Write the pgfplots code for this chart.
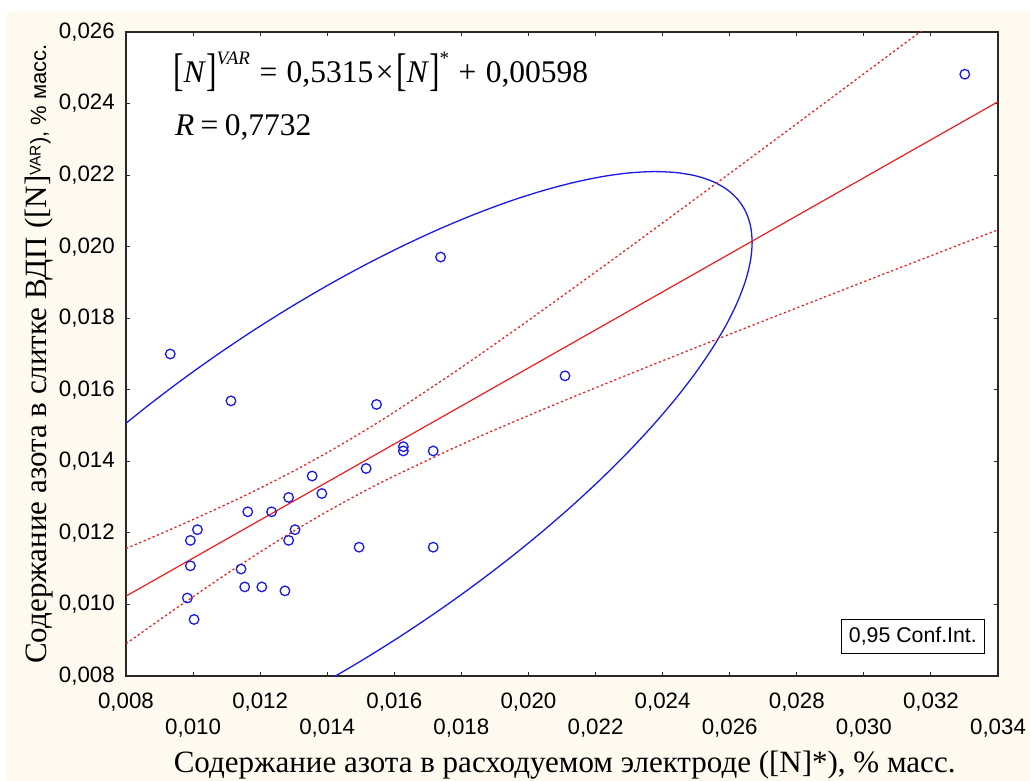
\documentclass[border=0pt]{standalone}
\usepackage{fontspec}
\setmainfont{Liberation Serif}
\newfontfamily\arial{Liberation Sans}
\usepackage{graphicx}
\usepackage{pgfplots}
\pgfplotsset{compat=1.18}

\definecolor{cream}{RGB}{254,250,240}
\definecolor{ptblue}{RGB}{25,25,235}
\definecolor{lnred}{RGB}{238,30,30}
\definecolor{axgray}{RGB}{40,40,40}
\newcommand{\lb}[1]{\raisebox{-0.08em}{\scalebox{1}[1.45]{#1}}}

\begin{document}
\begin{tikzpicture}
\fill[white] (-126bp,-105bp) rectangle (904bp,676bp);
\fill[cream] (-119bp,-105bp) rectangle (904bp,664bp);
\begin{axis}[
  scale only axis, width=872bp, height=644bp,
  xmin=0.008, xmax=0.034, ymin=0.008, ymax=0.026,
  axis background/.style={fill=white},
  axis line style={axgray, line width=1.5bp},
  tick align=inside,
  major tick length=4.5bp,
  tick style={axgray, line width=1bp},
  scaled ticks=false,
  xtick={0.008,0.012,0.016,0.020,0.024,0.028,0.032},
  extra x ticks={0.010,0.014,0.018,0.022,0.026,0.030,0.034},
  extra x tick style={xticklabel style={yshift=-26bp}},
  ytick={0.008,0.010,0.012,0.014,0.016,0.018,0.020,0.022,0.024,0.026},
  /pgf/number format/.cd, fixed, fixed zerofill, precision=3, use comma, assume math mode=true, 1000 sep={},
  /pgfplots/.cd,
  ticklabel style={font=\arial\fontsize{22.3bp}{24bp}\selectfont, inner sep=0pt},
  xticklabel style={anchor=north, yshift=-16.5bp},
  yticklabel style={anchor=east, xshift=-11bp},
  xlabel={Содержание азота в расходуемом электроде ([N]*), \% масс.},
  xlabel style={at={(axis description cs:0.503,-0.1491)}, anchor=base, inner sep=0pt, font=\fontsize{31bp}{33bp}\selectfont},
  ylabel={{\fontsize{31bp}{33bp}\selectfont Содержание азота в слитке ВДП ([N]}\raisebox{0.55em}{\arial\fontsize{15.5bp}{16bp}\selectfont VAR}{\arial\fontsize{22bp}{24bp}\selectfont ), \% масс.}},
  ylabel style={at={(axis description cs:-0.0917,0.5)}, anchor=base, rotate=0, inner sep=0pt},
]

% 95% confidence ellipse
\addplot[ptblue, line width=1.3bp, smooth] coordinates {
(0.011800,0.006783) (0.012896,0.007302) (0.014000,0.007868) (0.015104,0.008476)
(0.016200,0.009121) (0.017279,0.009799) (0.018333,0.010504) (0.019354,0.011231)
(0.020335,0.011975) (0.021267,0.012729) (0.022143,0.013489) (0.022958,0.014247)
(0.023705,0.015000) (0.024378,0.015739) (0.024972,0.016461) (0.025482,0.017159)
(0.025905,0.017829) (0.026237,0.018466) (0.026477,0.019063) (0.026621,0.019617)
(0.026669,0.020124) (0.026621,0.020579) (0.026477,0.020981) (0.026237,0.021324)
(0.025905,0.021607) (0.025482,0.021827) (0.024972,0.021983) (0.024378,0.022073)
(0.023705,0.022098) (0.022958,0.022057) (0.022143,0.021949) (0.021267,0.021775)
(0.020335,0.021539) (0.019354,0.021241) (0.018333,0.020882) (0.017279,0.020467)
(0.016200,0.019997) (0.015104,0.019478) (0.014000,0.018912) (0.012896,0.018304)
(0.011800,0.017659) (0.010721,0.016981) (0.009667,0.016276) (0.008646,0.015549)
(0.007665,0.014805) (0.006733,0.014051) (0.005857,0.013291)
};

% regression line
\addplot[lnred, line width=1.2bp] coordinates {(0.008,0.010232) (0.034,0.024051)};

% confidence bands
\addplot[lnred, line width=1.3bp, dash pattern=on 2.2bp off 2.6bp, smooth] coordinates {
(0.008,0.011562) (0.009,0.011962) (0.010,0.012373) (0.011,0.012801)
(0.012,0.013251) (0.013,0.013730) (0.014,0.014243) (0.015,0.014793)
(0.016,0.015377) (0.018,0.016625) (0.020,0.017940) (0.022,0.019291)
(0.024,0.020662) (0.026,0.022045) (0.028,0.023436) (0.030,0.024831)
(0.032,0.026230) (0.034,0.027631)
};
\addplot[lnred, line width=1.3bp, dash pattern=on 2.2bp off 2.6bp, smooth] coordinates {
(0.008,0.008902) (0.009,0.009566) (0.010,0.010217) (0.011,0.010853)
(0.012,0.011465) (0.013,0.012050) (0.014,0.012599) (0.015,0.013113)
(0.016,0.013591) (0.018,0.014469) (0.020,0.015280) (0.022,0.016055)
(0.024,0.016810) (0.026,0.017553) (0.028,0.018288) (0.030,0.019019)
(0.032,0.019746) (0.034,0.020471)
};

% data points
\addplot[only marks, mark=o, mark size=4.8bp, ptblue, mark options={line width=1.3bp}] coordinates {
(0.01113,0.01569) (0.01547,0.01559) (0.01627,0.01441) (0.01627,0.01429)
(0.01716,0.01429) (0.01516,0.01380) (0.01355,0.01359) (0.01384,0.01310)
(0.01285,0.01299) (0.01163,0.01259) (0.01234,0.01259) (0.01013,0.01209)
(0.00992,0.01179) (0.01304,0.01209) (0.01285,0.01179) (0.01495,0.01160)
(0.01716,0.01160) (0.00992,0.01108) (0.01143,0.01099) (0.01154,0.01049)
(0.01205,0.01049) (0.01274,0.01038) (0.00983,0.01018) (0.01003,0.00958)
(0.00932,0.01700) (0.01738,0.01971) (0.03301,0.02482) (0.02109,0.01639)
};

\node[anchor=base west, inner sep=0pt, font=\fontsize{31.5bp}{33bp}\selectfont] at (axis description cs:0.0539,0.9208)
  {\lb{[}\textit{N}\lb{]}\raisebox{0.6em}{\fontsize{19bp}{19bp}\selectfont\textit{VAR}}\kern0.3em=\kern0.3em0,5315\kern0.08em×\kern0.08em\lb{[}\textit{N}\lb{]}\raisebox{0.6em}{\fontsize{19bp}{19bp}\selectfont *}\kern0.3em+\kern0.3em0,00598};
\node[anchor=base west, inner sep=0pt, font=\fontsize{31.5bp}{33bp}\selectfont] at (axis description cs:0.0562,0.840)
  {\textit{R}\kern0.2em=\kern0.2em0,7732};
\node[draw=black, line width=1bp, fill=white, inner xsep=7.5bp, minimum height=34bp, font=\arial\fontsize{21.3bp}{24bp}\selectfont] at (axis description cs:0.9024,0.0616) {0,95 Conf.Int.};
\end{axis}
\pgfresetboundingbox
\path[use as bounding box] (-126bp,-105bp) rectangle (904bp,676bp);
\end{tikzpicture}
\end{document}
